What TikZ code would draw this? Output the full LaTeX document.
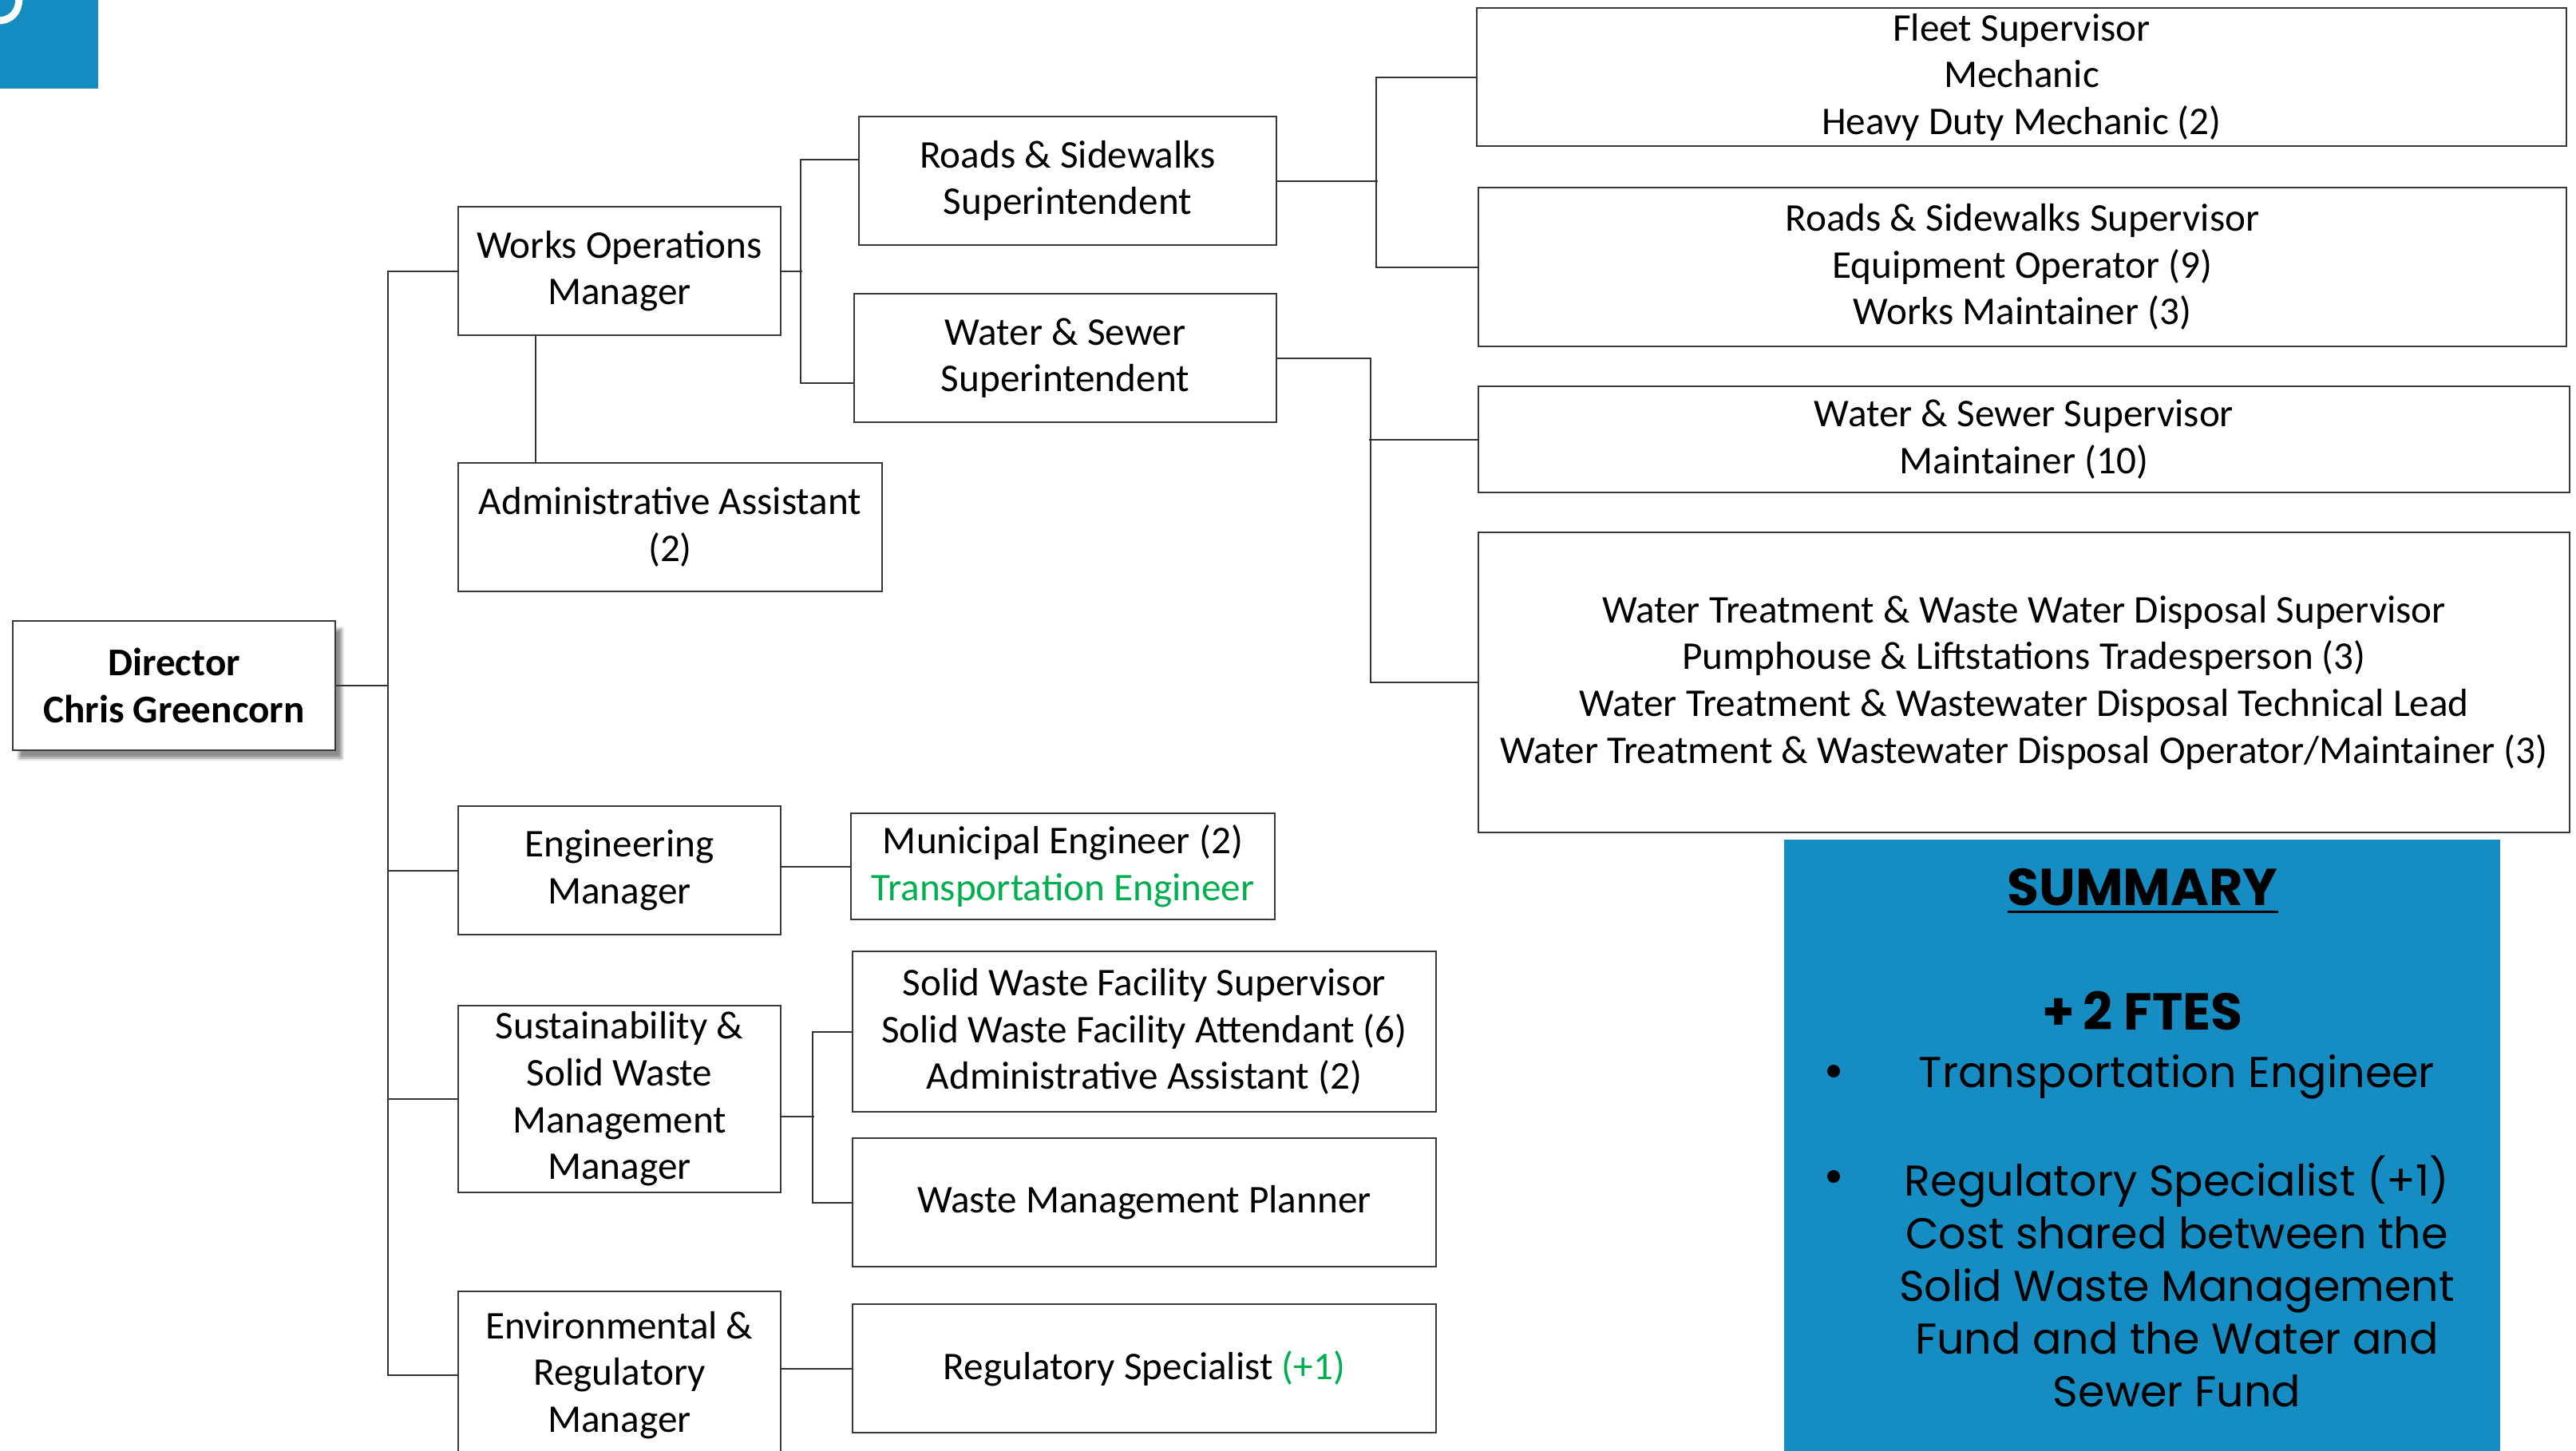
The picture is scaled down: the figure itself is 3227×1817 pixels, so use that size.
\documentclass[tikz,border=0pt]{standalone}
\usepackage{fontspec}
\setmainfont{Carlito}
\newfontfamily\sumfont{Poppins}
\usetikzlibrary{shadows.blur}
\definecolor{brandblue}{RGB}{22,141,194}
\definecolor{newgreen}{RGB}{0,176,80}
\newcommand\orgfont{\fontsize{24.6}{29.3}\selectfont}
\newcommand\sumbody{\sumfont\fontsize{27}{33}\selectfont}
\newcommand\sumhead{\sumfont\bfseries\fontsize{32.5}{36}\selectfont}
% thick underline for the panel heading
\newsavebox\ulbox
\newcommand\thickul[1]{\sbox\ulbox{#1}\rlap{\rule[-5pt]{\wd\ulbox}{1.7pt}}\usebox\ulbox}
\tikzset{
  orgbox/.style={draw=black!78, line width=1.2pt, fill=white, align=center,
    inner sep=0pt, font=\orgfont},
  sz/.style 2 args={minimum width=#1*0.5pt, minimum height=#2*0.5pt},
  conn/.style={draw=black!80, line width=1pt},
  dot/.style={circle, fill=black, inner sep=0pt, minimum size=8pt},
}
\begin{document}
\begin{tikzpicture}[x=0.5pt, y=-0.5pt]
\path[use as bounding box, clip] (0,0) rectangle (3227,1817);

% corner tab
\node[fill=brandblue, anchor=north west, inner sep=0pt, sz={123}{111}] (tab) at (0,0) {};
\draw[white, line width=4.5pt] (-4,26) .. controls (14,26) and (24,16) .. (24,-4);

% director
\node[orgbox, sz={404}{162}, font=\orgfont\bfseries,
  blur shadow={shadow xshift=4pt, shadow yshift=-5pt, shadow opacity=45}]
  (dir) at (218,859) {Director\\Chris Greencorn};

% managers
\node[orgbox, sz={404}{161}] (wom) at (776,339.5) {Works Operations\\Manager};
\node[orgbox, sz={531}{161}] (adm) at (839.5,660.5) {Administrative Assistant\\(2)};
\node[orgbox, sz={404}{161}] (eng) at (776,1090.5) {Engineering\\Manager};
\node[orgbox, sz={404}{234}] (sus) at (776,1377) {Sustainability \&\\Solid Waste\\Management\\Manager};
\node[orgbox, sz={404}{210}] (env) at (776,1723) {Environmental \&\\Regulatory\\Manager};

% superintendents and staff
\node[orgbox, sz={523}{161}] (rs) at (1337.5,226.5) {Roads \& Sidewalks\\Superintendent};
\node[orgbox, sz={529}{161}] (ws) at (1334.5,448.5) {Water \& Sewer\\Superintendent};
\node[orgbox, sz={1365}{173}] (fleet) at (2532.5,96.5) {Fleet Supervisor\\Mechanic\\Heavy Duty Mechanic (2)};
\node[orgbox, sz={1363}{199}] (rss) at (2533.5,334.5) {Roads \& Sidewalks Supervisor\\Equipment Operator (9)\\Works Maintainer (3)};
\node[orgbox, sz={1367}{133}] (wss) at (2535.5,550.5) {Water \& Sewer Supervisor\\Maintainer (10)};
\node[orgbox, sz={1367}{376}] (wt) at (2535.5,855) {Water Treatment \& Waste Water Disposal Supervisor\\Pumphouse \& Liftstations Tradesperson (3)\\Water Treatment \& Wastewater Disposal Technical Lead\\Water Treatment \& Wastewater Disposal Operator/Maintainer (3)};
\node[orgbox, sz={531}{133}] (mun) at (1331.5,1085.5) {Municipal Engineer (2)\\\textcolor{newgreen}{Transportation Engineer}};
\node[orgbox, sz={731}{201}] (sw) at (1433.5,1292.5) {Solid Waste Facility Supervisor\\Solid Waste Facility Attendant (6)\\Administrative Assistant (2)};
\node[orgbox, sz={731}{161}] (wmp) at (1433.5,1506.5) {Waste Management Planner};
\node[orgbox, sz={731}{161}] (reg) at (1433.5,1714.5) {Regulatory Specialist \textcolor{newgreen}{(+1)}};

% connectors
\coordinate (trunk) at (486,0);
\coordinate (admx) at (671,0);
\draw[conn] (wom.west) -- (wom.west -| trunk) |- (env.west);
\draw[conn] (dir.east) -- (dir.east -| trunk);
\draw[conn] (eng.west) -- (eng.west -| trunk);
\draw[conn] (sus.west) -- (sus.west -| trunk);
\draw[conn] (wom.south -| admx) -- (adm.north -| admx);
\draw[conn] (wom.east) -- ++(26,0);
\draw[conn] ([yshift=13.25pt]rs.west) -- ++(-72,0) |- ([yshift=-15.75pt]ws.west);
\draw[conn] (rs.east) -- ++(126,0);
\draw[conn] (fleet.west) -- ++(-125,0) |- (rss.west);
\draw[conn] (ws.east) -- ++(117,0) |- (wt.west);
\draw[conn] (wss.west) -- ++(-136,0);
\draw[conn] (eng.east |- mun.west) -- (mun.west);
\draw[conn] ([yshift=-11pt]sus.east) -- ++(41,0);
\draw[conn] (sw.west) -- ++(-49,0) |- (wmp.west);
\draw[conn] (reg.west -| env.east) -- (reg.west);

% summary panel
\node[fill=brandblue, anchor=north west, inner sep=0pt, sz={897}{790}] (summary) at (2235,1052) {};
\node[font=\sumhead, anchor=base] (sumtitle) at (2684,1134) {\thickul{SUMMARY}};
\node[font=\sumhead, anchor=base] (ftes) at (2684,1290) {+\,2 FTES};
\node[dot] (dot1) at (2297,1342) {};
\node[font=\sumbody, anchor=base] (item1) at (2727,1362) {Transportation Engineer};
\node[dot] (dot2) at (2297,1474) {};
\node[font=\sumbody, align=center] (item2) at (2727,1605) {Regulatory Specialist (+1)\\Cost shared between the\\Solid Waste Management\\Fund and the Water and\\Sewer Fund};
\end{tikzpicture}
\end{document}
